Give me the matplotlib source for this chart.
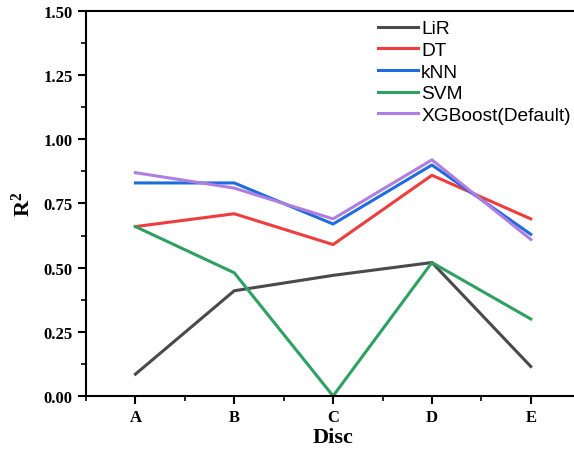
import matplotlib
matplotlib.use('Agg')
import matplotlib.pyplot as plt
from matplotlib.ticker import MultipleLocator

plt.rcParams['font.family'] = 'Liberation Serif'
plt.rcParams['font.weight'] = 'bold'
plt.rcParams['mathtext.fontset'] = 'custom'
plt.rcParams['mathtext.rm'] = 'Liberation Serif:bold'
plt.rcParams['mathtext.bf'] = 'Liberation Serif:bold'

discs = ['A', 'B', 'C', 'D', 'E']
lir = [0.085, 0.41, 0.47, 0.52, 0.115]
dt = [0.66, 0.71, 0.59, 0.86, 0.69]
knn = [0.83, 0.83, 0.67, 0.90, 0.63]
svm = [0.66, 0.48, 0.0, 0.52, 0.30]
xgb = [0.87, 0.81, 0.69, 0.92, 0.61]

names = ['LiR', 'DT', 'kNN', 'SVM', 'XGBoost(Default)']
colors = ['#4a4a4a', '#f03c3c', '#1f6ce0', '#2ea062', '#b07ee0']

fig = plt.figure(figsize=(5.74, 4.52), dpi=100)
ax = fig.add_axes([0.1498, 0.1217, 0.861, 0.8518])

x = range(len(discs))
for vals, name, c in zip([lir, dt, knn, svm, xgb], names, colors):
    ax.plot(x, vals, color=c, lw=2.2, label=name)

ax.set_xlim(-0.5, 4.5)
ax.set_ylim(0, 1.5)
ax.set_xticks(list(x))
ax.set_xticklabels(discs)
ax.xaxis.set_minor_locator(MultipleLocator(0.5))
ax.yaxis.set_major_locator(MultipleLocator(0.25))
ax.yaxis.set_minor_locator(MultipleLocator(0.125))
ax.yaxis.set_major_formatter(plt.FormatStrFormatter('%.2f'))

for s in ax.spines.values():
    s.set_linewidth(1.5)
ax.tick_params(which='major', direction='out', length=6, width=1.5, labelsize=12)
ax.tick_params(which='minor', direction='out', length=3.5, width=1.2)

ax.set_xlabel('Disc', fontsize=16, fontweight='bold', labelpad=1)
ax.set_ylabel(r'$\mathbf{R^2}$', fontsize=16, labelpad=6)

leg = fig.legend(loc='upper left', bbox_to_anchor=(378 / 574, 1 - 21 / 452),
                 frameon=False, borderpad=0, borderaxespad=0,
                 handlelength=2.1, handletextpad=0.15, labelspacing=0.22,
                 prop={'family': 'Liberation Sans', 'weight': 'normal', 'size': 13.8})

fig.savefig('out.png', dpi=100)
